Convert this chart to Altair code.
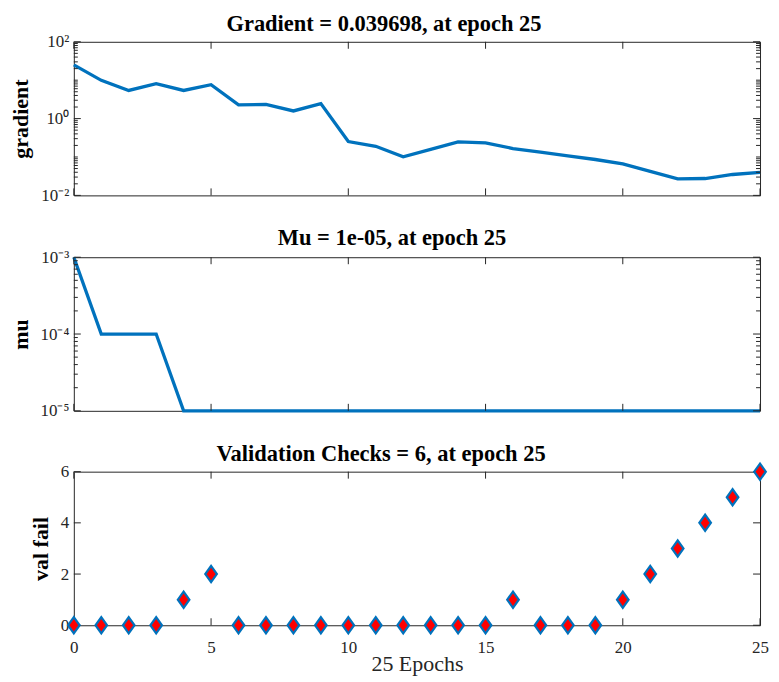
import altair as alt
import pandas as pd

# ---------------- data ----------------
epochs = list(range(26))
gradient = [25.0, 9.9, 5.4, 8.1, 5.4, 7.6, 2.27, 2.35, 1.58, 2.45, 0.253, 0.19, 0.101,
            0.157, 0.248, 0.234, 0.166, 0.133, 0.107, 0.086, 0.066, 0.042, 0.027,
            0.0275, 0.035, 0.039698]
mu = [1e-3, 1e-4, 1e-4, 1e-4, 1e-5, 1e-5, 1e-5, 1e-5, 1e-5, 1e-5, 1e-5, 1e-5, 1e-5,
      1e-5, 1e-5, 1e-5, 1e-5, 1e-5, 1e-5, 1e-5, 1e-5, 1e-5, 1e-5, 1e-5, 1e-5, 1e-5]
val_fail = [0, 0, 0, 0, 1, 2, 0, 0, 0, 0, 0, 0, 0, 0, 0, 0, 1, 0, 0, 0, 1, 2, 3, 4, 5, 6]

x_ticks = [0, 5, 10, 15, 20, 25]
grad_major = [0.01, 1, 100]
grad_labels = ["10⁻²", "10⁰", "10²"]
grad_minor = [0.02, 0.03, 0.04, 0.05, 0.06, 0.07, 0.08, 0.09,
              0.1, 0.2, 0.3, 0.4, 0.5, 0.6, 0.7, 0.8, 0.9,
              2, 3, 4, 5, 6, 7, 8, 9,
              10, 20, 30, 40, 50, 60, 70, 80, 90]
mu_major = [1e-5, 1e-4, 1e-3]
mu_labels = ["10⁻⁵", "10⁻⁴", "10⁻³"]
mu_minor = [2e-5, 3e-5, 4e-5, 5e-5, 6e-5, 7e-5, 8e-5, 9e-5,
            2e-4, 3e-4, 4e-4, 5e-4, 6e-4, 7e-4, 8e-4, 9e-4]
val_major = [0, 2, 4, 6]
val_labels = ["0", "2", "4", "6"]

titles = ["Gradient = 0.039698, at epoch 25",
          "Mu = 1e-05, at epoch 25",
          "Validation Checks = 6, at epoch 25"]
y_titles = ["gradient", "mu", "val fail"]
x_title = "25 Epochs"

# ---------------- style ----------------
W = 688
H = 154
BLUE = "#0072BD"
AX = "#262626"
FONT = "Liberation Serif"
MAJ = 7
MIN = 4

xscale = alt.Scale(domain=[0, 25], nice=False, zero=False)


def label_expr(vals, labs):
    expr = f"'{labs[-1]}'"
    for v, l in reversed(list(zip(vals[:-1], labs[:-1]))):
        thr = v * 1.001 if v != 0 else 0.001
        expr = f"datum.value <= {thr!r} ? '{l}' : ({expr})"
    return expr


def tick_layers(yscale, yax, xax, h, major, minor):
    layers = []
    xt = pd.DataFrame({"v": x_ticks})
    layers.append(alt.Chart(xt).mark_rule(color=AX, strokeWidth=1).encode(
        x=alt.X("v:Q", scale=xscale, axis=xax), y=alt.value(0), y2=alt.value(MAJ)))
    layers.append(alt.Chart(xt).mark_rule(color=AX, strokeWidth=1).encode(
        x=alt.X("v:Q", scale=xscale, axis=xax), y=alt.value(h), y2=alt.value(h - MAJ)))
    for vals, ln in ((major, MAJ), (minor, MIN)):
        if not vals:
            continue
        d = pd.DataFrame({"v": vals})
        layers.append(alt.Chart(d).mark_rule(color=AX, strokeWidth=1).encode(
            y=alt.Y("v:Q", scale=yscale, axis=yax), x=alt.value(0), x2=alt.value(ln)))
        layers.append(alt.Chart(d).mark_rule(color=AX, strokeWidth=1).encode(
            y=alt.Y("v:Q", scale=yscale, axis=yax), x=alt.value(W), x2=alt.value(W - ln)))
    return layers


def make_title(t, dx, off):
    return alt.TitleParams(text=t, font=FONT, fontSize=22.5, fontWeight="bold",
                           color="black", anchor="middle", dx=dx, offset=off,
                           frame="group")


def yaxis(major, labs, ttl):
    return alt.Axis(values=major, labelExpr=label_expr(major, labs), title=ttl,
                    ticks=False, domain=False, grid=False, labelPadding=5,
                    labelFont=FONT, labelFontSize=17, labelColor=AX,
                    titleFont=FONT, titleFontSize=22, titleFontWeight="bold",
                    titleColor="black", titlePadding=8, labelBound=False,
                    labelOverlap=False)


# ---------------- gradient panel ----------------
gscale = alt.Scale(type="log", domain=[0.01, 100], nice=False)
gax = yaxis(grad_major, grad_labels, y_titles[0])
gdf = pd.DataFrame({"epoch": epochs, "gradient": gradient})
gline = alt.Chart(gdf).mark_line(color=BLUE, strokeWidth=3.3).encode(
    x=alt.X("epoch:Q", scale=xscale, axis=None),
    y=alt.Y("gradient:Q", scale=gscale, axis=gax))
p1 = alt.layer(gline, *tick_layers(gscale, gax, None, H, grad_major, grad_minor)).properties(
    width=W, height=H, title=make_title(titles[0], -33, -3))

# ---------------- mu panel ----------------
mscale = alt.Scale(type="log", domain=[1e-5, 1e-3], nice=False)
max_ = yaxis(mu_major, mu_labels, y_titles[1])
mdf = pd.DataFrame({"epoch": epochs, "mu": mu})
mline = alt.Chart(mdf).mark_line(color=BLUE, strokeWidth=3.3).encode(
    x=alt.X("epoch:Q", scale=xscale, axis=None),
    y=alt.Y("mu:Q", scale=mscale, axis=max_))
p2 = alt.layer(mline, *tick_layers(mscale, max_, None, H, mu_major, mu_minor)).properties(
    width=W, height=H, title=make_title(titles[1], -25, -1.5))

# ---------------- validation panel ----------------
vscale = alt.Scale(domain=[0, 6], nice=False, zero=True)
vax = yaxis(val_major, val_labels, y_titles[2])
xax = alt.Axis(values=x_ticks, title=x_title, ticks=False, domain=False,
               grid=False, labelPadding=14, labelFont=FONT, labelFontSize=17,
               labelColor=AX, titleFont=FONT, titleFontSize=22,
               titleFontWeight="normal", titleColor=AX, titlePadding=-2,
               labelFlush=False, format="d")
vdf = pd.DataFrame({"epoch": epochs, "val_fail": val_fail})
vpts = alt.Chart(vdf).mark_point(
    shape="M0,-1.4L1,0L0,1.4L-1,0Z", size=135, filled=True, fill="#FF0000",
    stroke=BLUE, strokeWidth=2.2, opacity=1).encode(
    x=alt.X("epoch:Q", scale=xscale, axis=xax),
    y=alt.Y("val_fail:Q", scale=vscale, axis=vax))
p3 = alt.layer(*tick_layers(vscale, vax, xax, H, val_major, []), vpts).properties(
    width=W, height=H, title=make_title(titles[2], -36, -6))

chart = alt.vconcat(p1, p2, p3, spacing=22).properties(
    padding={"left": 0, "top": 4, "right": 0, "bottom": 0}
).configure(background="white").configure_view(stroke=AX, strokeWidth=1)

chart.save("out.html", embed_options={"renderer": "svg", "actions": False})
